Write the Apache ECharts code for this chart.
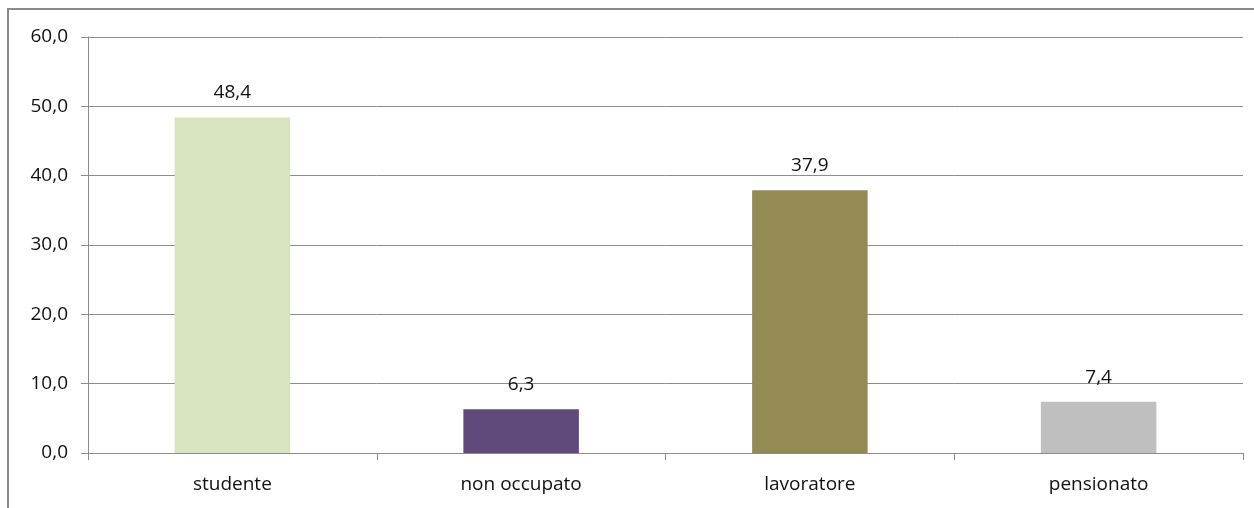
<!DOCTYPE html>
<html><head><meta charset="utf-8">
<script src="https://cdn.jsdelivr.net/npm/echarts@6/dist/echarts.min.js"></script>
<style>
html,body{margin:0;padding:0;background:#fff;}
#frame{position:absolute;left:7px;top:8px;width:1260px;height:520px;border-left:2px solid #8a8a8a;border-top:2px solid #8a8a8a;}
#c{position:absolute;left:0;top:0;width:1254px;height:508px;}
</style></head>
<body>
<div id="frame"></div>
<div id="c"></div>
<script>
const categories = ['studente', 'non occupato', 'lavoratore', 'pensionato'];
const values = [48.4, 6.3, 37.9, 7.4];
const colors = ['#D7E4BD', '#604A7B', '#948A54', '#BFBFBF'];
const yTicks = [0, 10, 20, 30, 40, 50, 60];

const fmt = v => v.toFixed(1).replace('.', ',');
const chart = echarts.init(document.getElementById('c'), null, {renderer:'canvas'});
chart.setOption({
  animation:false,
  backgroundColor:'transparent',
  grid:{left:88, right:11, top:37, bottom:55},
  xAxis:{type:'category', data:categories,
    axisLine:{lineStyle:{color:'#8c8c8c', width:1}},
    axisTick:{show:true, length:7, lineStyle:{color:'#8c8c8c'}},
    axisLabel:{color:'#111', fontFamily:'Open Sans', fontSize:19, margin:22}},
  yAxis:{type:'value', min:yTicks[0], max:yTicks[yTicks.length-1], interval:10,
    axisLine:{show:true, lineStyle:{color:'#8c8c8c'}},
    axisTick:{show:true, length:7, lineStyle:{color:'#8c8c8c'}},
    splitLine:{lineStyle:{color:'#8c8c8c'}},
    axisLabel:{color:'#111', fontFamily:'Open Sans', fontSize:19, margin:20, formatter:fmt}},
  series:[{type:'bar', barWidth:'40%',
    data: values.map((v,i)=>({value:v, itemStyle:{color:colors[i]}})),
    label:{show:true, position:'top', distance:15, color:'#111', fontFamily:'Open Sans', fontSize:19, formatter:p=>fmt(p.value)}}]
});
</script>
</body></html>
